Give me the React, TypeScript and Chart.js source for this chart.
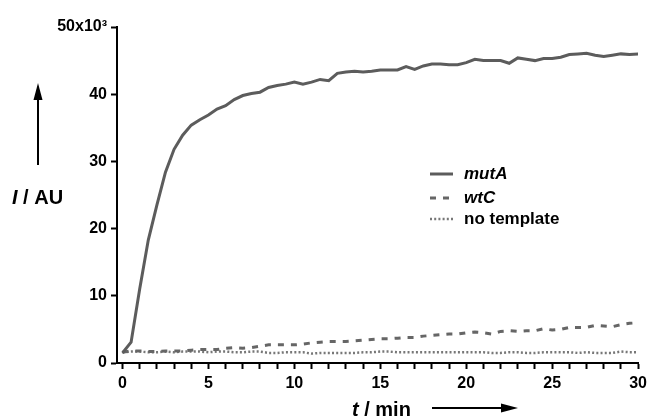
import React, { useEffect, useRef } from "react";
import { Chart, registerables } from "chart.js";

Chart.register(...registerables);

const times = [
  0, 0.5, 1, 1.5, 2, 2.5, 3, 3.5, 4, 4.5, 5, 5.5, 6, 6.5, 7, 7.5, 8, 8.5, 9, 9.5,
  10, 10.5, 11, 11.5, 12, 12.5, 13, 13.5, 14, 14.5, 15, 15.5, 16, 16.5, 17, 17.5,
  18, 18.5, 19, 19.5, 20, 20.5, 21, 21.5, 22, 22.5, 23, 23.5, 24, 24.5, 25, 25.5,
  26, 26.5, 27, 27.5, 28, 28.5, 29, 29.5, 30,
];

const mutA = [
  1.5, 3.1, 11.0, 18.3, 23.5, 28.4, 31.8, 33.9, 35.4, 36.2, 36.9, 37.8, 38.3, 39.2,
  39.8, 40.1, 40.3, 41.0, 41.3, 41.5, 41.8, 41.5, 41.8, 42.2, 42.0, 43.1, 43.3, 43.4,
  43.3, 43.4, 43.6, 43.6, 43.6, 44.1, 43.7, 44.2, 44.5, 44.5, 44.4, 44.4, 44.7, 45.2,
  45.0, 45.0, 45.0, 44.6, 45.4, 45.2, 45.0, 45.3, 45.3, 45.5, 45.9, 46.0, 46.1, 45.8,
  45.6, 45.8, 46.0, 45.9, 46.0,
];

const wtC = [
  1.6, 1.8, 1.8, 1.7, 1.7, 1.8, 1.8, 1.8, 1.9, 2.0, 2.0, 2.0, 2.2, 2.3, 2.2, 2.3,
  2.5, 2.7, 2.7, 2.7, 2.7, 2.8, 3.0, 3.1, 3.2, 3.2, 3.2, 3.3, 3.4, 3.5, 3.6, 3.6,
  3.7, 3.8, 3.8, 4.0, 4.1, 4.2, 4.3, 4.3, 4.5, 4.6, 4.5, 4.3, 4.7, 4.8, 4.7, 4.8,
  4.8, 5.1, 4.9, 5.0, 5.3, 5.3, 5.3, 5.6, 5.5, 5.4, 5.7, 5.9, 6.0,
];

const noTemplate = [
  1.6, 1.7, 1.7, 1.6, 1.6, 1.7, 1.6, 1.7, 1.7, 1.7, 1.6, 1.7, 1.7, 1.6, 1.6, 1.7,
  1.7, 1.5, 1.5, 1.6, 1.6, 1.6, 1.4, 1.5, 1.5, 1.5, 1.5, 1.5, 1.6, 1.6, 1.7, 1.7,
  1.6, 1.6, 1.6, 1.6, 1.6, 1.6, 1.6, 1.6, 1.6, 1.6, 1.6, 1.5, 1.5, 1.6, 1.6, 1.5,
  1.5, 1.6, 1.6, 1.6, 1.6, 1.5, 1.6, 1.5, 1.5, 1.5, 1.7, 1.6, 1.6,
];

const seriesLabels = ["mutA", "wtC", "no template"];
const seriesItalic = [true, true, false];
const seriesColors = ["#5c5c5c", "#666666", "#777777"];
const seriesWidths = [3, 3, 2.5];
const seriesDashes: number[][] = [[], [6, 7], [2, 2.2]];

const yMax = 50;
const yStep = 10;
const yTopLabel = "50x10³";
const xMin = -0.32;
const xMax = 30;
const xMajorEvery = 5;

const yTitleItalic = "I";
const yTitleRest = " / AU";
const xTitleItalic = "t";
const xTitleRest = " / min";

const FONT = "'Liberation Sans', Arial, Helvetica, sans-serif";

const overlayPlugin = {
  id: "overlay",
  afterDraw(chart: any) {
    const ctx = chart.ctx as CanvasRenderingContext2D;
    ctx.save();
    ctx.fillStyle = "#000";
    ctx.strokeStyle = "#000";

    // Y title
    ctx.textBaseline = "alphabetic";
    ctx.textAlign = "left";
    let x = 12;
    const yb = 204;
    ctx.font = `italic bold 20px ${FONT}`;
    ctx.fillText(yTitleItalic, x, yb);
    x += ctx.measureText(yTitleItalic).width;
    ctx.font = `bold 20px ${FONT}`;
    ctx.fillText(yTitleRest, x, yb);

    // up arrow
    ctx.lineWidth = 2;
    ctx.beginPath();
    ctx.moveTo(38, 165);
    ctx.lineTo(38, 96);
    ctx.stroke();
    ctx.beginPath();
    ctx.moveTo(38, 83);
    ctx.lineTo(33.5, 100);
    ctx.lineTo(42.5, 100);
    ctx.closePath();
    ctx.fill();

    // X title
    let tx = 352;
    const tb = 416;
    ctx.font = `italic bold 20px ${FONT}`;
    ctx.fillText(xTitleItalic, tx, tb);
    tx += ctx.measureText(xTitleItalic).width;
    ctx.font = `bold 20px ${FONT}`;
    ctx.fillText(xTitleRest, tx, tb);

    // right arrow
    ctx.beginPath();
    ctx.moveTo(432, 408);
    ctx.lineTo(505, 408);
    ctx.stroke();
    ctx.beginPath();
    ctx.moveTo(518, 408);
    ctx.lineTo(501, 403.5);
    ctx.lineTo(501, 412.5);
    ctx.closePath();
    ctx.fill();

    // Legend
    const rows = [174, 198, 219];
    ctx.textBaseline = "middle";
    seriesLabels.forEach((label, i) => {
      const y = rows[i];
      ctx.save();
      ctx.strokeStyle = seriesColors[i];
      ctx.lineWidth = seriesWidths[i];
      ctx.setLineDash(seriesDashes[i]);
      ctx.beginPath();
      ctx.moveTo(430, y);
      ctx.lineTo(453, y);
      ctx.stroke();
      ctx.restore();
      ctx.fillStyle = "#000";
      ctx.font = `${seriesItalic[i] ? "italic " : ""}bold 17px ${FONT}`;
      ctx.fillText(label, 464, y);
    });

    ctx.restore();
  },
};

export default function App() {
  const ref = useRef<HTMLCanvasElement | null>(null);

  useEffect(() => {
    if (!ref.current) return;
    const series = [mutA, wtC, noTemplate];
    const chart = new Chart(ref.current, {
      type: "line",
      data: {
        datasets: series.map((vals, i) => ({
          label: seriesLabels[i],
          data: times.map((t, k) => ({ x: t, y: vals[k] })),
          borderColor: seriesColors[i],
          borderWidth: seriesWidths[i],
          borderDash: seriesDashes[i],
          pointRadius: 0,
          tension: 0,
          fill: false,
        })),
      },
      options: {
        responsive: false,
        animation: false,
        events: [],
        layout: { padding: { left: 0, right: 12, top: 27, bottom: 0 } },
        plugins: {
          legend: { display: false },
          tooltip: { enabled: false },
          title: { display: false },
        },
        scales: {
          x: {
            type: "linear",
            min: xMin,
            max: xMax,
            afterFit: (s: any) => {
              s.height = 56;
            },
            border: { display: true, color: "#000", width: 2 },
            grid: {
              display: true,
              drawOnChartArea: false,
              drawTicks: true,
              tickLength: 6,
              tickColor: "#000",
              tickWidth: 2,
            },
            ticks: {
              stepSize: 1,
              includeBounds: false,
              autoSkip: false,
              maxRotation: 0,
              padding: 5,
              color: "#000",
              font: { family: FONT, size: 16, weight: "bold" },
              callback: (v: any) => (Number(v) % xMajorEvery === 0 ? String(v) : ""),
            },
          },
          y: {
            type: "linear",
            min: 0,
            max: yMax,
            afterFit: (s: any) => {
              s.width = 117;
            },
            border: { display: true, color: "#000", width: 2 },
            grid: {
              display: true,
              drawOnChartArea: false,
              drawTicks: true,
              tickLength: 6,
              tickColor: "#000",
              tickWidth: 2,
            },
            ticks: {
              stepSize: yStep,
              padding: 4,
              color: "#000",
              font: { family: FONT, size: 16, weight: "bold" },
              callback: (v: any) => (Number(v) === yMax ? yTopLabel : String(v)),
            },
          },
        },
      },
      plugins: [overlayPlugin],
    });
    return () => chart.destroy();
  }, []);

  return (
    <div style={{ position: "absolute", left: 0, top: 0, width: 652, height: 419, background: "#fff" }}>
      <canvas ref={ref} width={652} height={419} style={{ display: "block" }} />
    </div>
  );
}
